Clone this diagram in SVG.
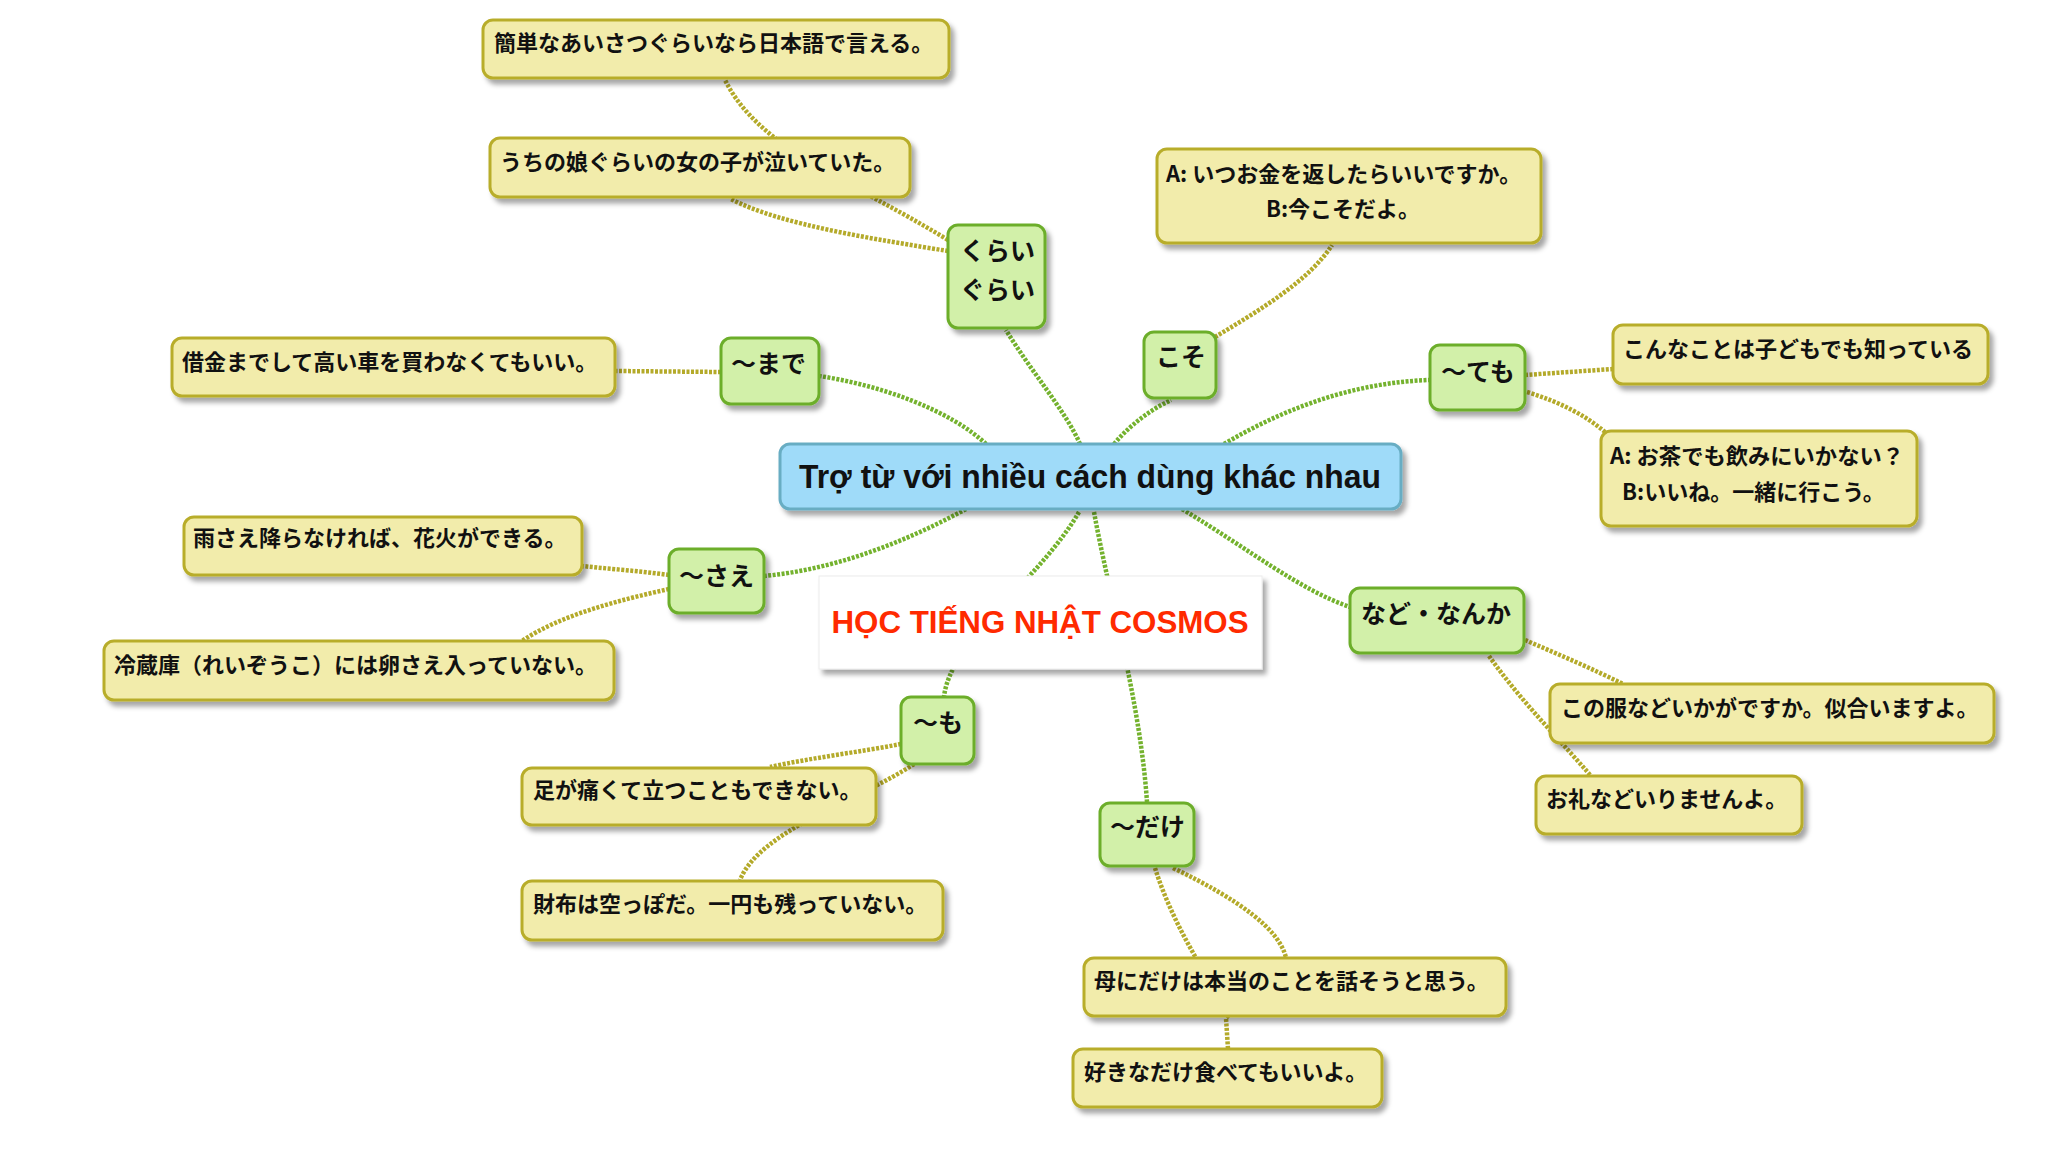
<svg xmlns="http://www.w3.org/2000/svg" width="2048" height="1170" viewBox="0 0 2048 1170">
<defs>
<filter id="sh" x="-10%" y="-20%" width="130%" height="150%">
<feDropShadow dx="4" dy="5" stdDeviation="2.5" flood-color="#000" flood-opacity="0.35"/>
</filter>
<style>
.cg{fill:none;stroke:#74b22e;stroke-width:4.5;stroke-dasharray:3 1.5}
.co{fill:none;stroke:#b4aa2a;stroke-width:4.5;stroke-dasharray:3 1.5}
.g rect{fill:#d2f0a9;stroke:#6cae2a;stroke-width:3;filter:url(#sh)}
.y rect{fill:#f2ecab;stroke:#b8ad2a;stroke-width:3;filter:url(#sh)}
.m rect{fill:#9fdbf9;stroke:#68adc3;stroke-width:3;filter:url(#sh)}
.r rect{fill:#ffffff;stroke:#ececec;stroke-width:1;filter:url(#sh)}
.tg{font-family:"Noto Sans CJK JP","Liberation Sans",sans-serif;font-weight:700;font-size:25px;fill:#111}
.ty{font-family:"Noto Sans CJK JP","Liberation Sans",sans-serif;font-weight:700;font-size:22px;fill:#111}
.tm{font-family:"Liberation Sans",Arial,sans-serif;font-weight:700;font-size:34px;fill:#111}
.tr{font-family:"Liberation Sans",Arial,sans-serif;font-weight:700;font-size:32px;fill:#ff2a00}
</style>
</defs>
<rect x="0" y="0" width="2048" height="1170" fill="#ffffff"/>
<g id="connectors">
<path class="cg" d="M1080,444 C1065,410 1030,370 1006,330"/>
<path class="cg" d="M986,444 C950,410 880,385 819,376"/>
<path class="cg" d="M1114,444 C1130,425 1150,410 1171,400"/>
<path class="cg" d="M1224,444 C1290,405 1360,382 1430,380"/>
<path class="cg" d="M966,509 C900,545 830,570 764,576"/>
<path class="cg" d="M1182,509 C1250,550 1300,590 1350,607"/>
<path class="cg" d="M1079,512 C1040,580 950,640 944,697"/>
<path class="cg" d="M1094,512 C1110,600 1140,700 1147,802"/>
<path class="co" d="M948,240 C850,180 760,150 725,80"/>
<path class="co" d="M948,251 C880,240 780,225 731,199"/>
<path class="co" d="M721,372 L615,371"/>
<path class="co" d="M1215,337 C1260,310 1310,280 1332,245"/>
<path class="co" d="M1525,375 L1613,369"/>
<path class="co" d="M1527,392 C1560,402 1585,415 1605,432"/>
<path class="co" d="M669,575 C640,571 610,569 582,566"/>
<path class="co" d="M669,589 C620,600 560,615 522,641"/>
<path class="co" d="M1525,640 C1560,655 1595,670 1623,684"/>
<path class="co" d="M1489,656 C1520,700 1560,740 1591,776"/>
<path class="co" d="M901,744 C860,752 810,758 770,767"/>
<path class="co" d="M914,764 C860,800 760,830 740,880"/>
<path class="co" d="M1155,868 C1165,900 1180,930 1196,958"/>
<path class="co" d="M1173,868 C1240,900 1280,930 1286,958 L1226,1018 L1228,1049"/>
</g>
<g id="title" class="r">
<rect x="819" y="576" width="443" height="93"/>
<text class="tr" x="1040" y="633" text-anchor="middle" textLength="417" lengthAdjust="spacingAndGlyphs">HỌC TIẾNG NHẬT COSMOS</text>
</g>
<g id="main" class="m">
<rect x="780" y="444" width="621" height="65" rx="10"/>
<text class="tm" x="1090" y="488" text-anchor="middle" textLength="582" lengthAdjust="spacingAndGlyphs">Trợ từ với nhiều cách dùng khác nhau</text>
</g>
<g id="n-kurai" class="g">
<rect x="948" y="225" width="97" height="103" rx="10"/>
<text class="tg" x="960" y="260">くらい</text>
<text class="tg" x="960" y="299">ぐらい</text>
</g>
<g id="n-koso" class="g">
<rect x="1144" y="332" width="72" height="66" rx="10"/>
<text class="tg" x="1156" y="366">こそ</text>
</g>
<g id="n-made" class="g">
<rect x="721" y="338" width="98" height="66" rx="10"/>
<text class="tg" x="731" y="373">～まで</text>
</g>
<g id="n-temo" class="g">
<rect x="1430" y="345" width="95" height="65" rx="10"/>
<text class="tg" x="1441" y="381">～ても</text>
</g>
<g id="n-sae" class="g">
<rect x="669" y="549" width="95" height="64" rx="10"/>
<text class="tg" x="679" y="585">～さえ</text>
</g>
<g id="n-nado" class="g">
<rect x="1350" y="588" width="174" height="65" rx="10"/>
<text class="tg" x="1361" y="623">など・なんか</text>
</g>
<g id="n-mo" class="g">
<rect x="901" y="697" width="73" height="67" rx="10"/>
<text class="tg" x="913" y="732">～も</text>
</g>
<g id="n-dake" class="g">
<rect x="1100" y="803" width="94" height="63" rx="10"/>
<text class="tg" x="1110" y="836">～だけ</text>
</g>
<g id="e-kantan" class="y">
<rect x="483" y="20" width="466" height="58" rx="10"/>
<text class="ty" x="494" y="51">簡単なあいさつぐらいなら日本語で言える。</text>
</g>
<g id="e-uchi" class="y">
<rect x="490" y="138" width="420" height="59" rx="10"/>
<text class="ty" x="500" y="170">うちの娘ぐらいの女の子が泣いていた。</text>
</g>
<g id="e-itsu" class="y">
<rect x="1157" y="149" width="384" height="94" rx="10"/>
<text class="ty" x="1166" y="182">A: いつお金を返したらいいですか。</text>
<text class="ty" x="1343" y="217" text-anchor="middle">B:今こそだよ。</text>
</g>
<g id="e-konna" class="y">
<rect x="1613" y="325" width="375" height="59" rx="10"/>
<text class="ty" x="1623" y="357">こんなことは子どもでも知っている</text>
</g>
<g id="e-ocha" class="y">
<rect x="1601" y="431" width="316" height="95" rx="10"/>
<text class="ty" x="1610" y="464" textLength="294" lengthAdjust="spacingAndGlyphs">A: お茶でも飲みにいかない？</text>
<text class="ty" x="1622" y="500">B:いいね。一緒に行こう。</text>
</g>
<g id="e-shakkin" class="y">
<rect x="172" y="338" width="443" height="58" rx="10"/>
<text class="ty" x="182" y="370">借金までして高い車を買わなくてもいい。</text>
</g>
<g id="e-ame" class="y">
<rect x="184" y="517" width="398" height="58" rx="10"/>
<text class="ty" x="193" y="546">雨さえ降らなければ、花火ができる。</text>
</g>
<g id="e-reizouko" class="y">
<rect x="104" y="641" width="510" height="59" rx="10"/>
<text class="ty" x="114" y="673">冷蔵庫（れいぞうこ）には卵さえ入っていない。</text>
</g>
<g id="e-kono" class="y">
<rect x="1550" y="684" width="444" height="59" rx="10"/>
<text class="ty" x="1561" y="716">この服などいかがですか。似合いますよ。</text>
</g>
<g id="e-orei" class="y">
<rect x="1536" y="776" width="266" height="58" rx="10"/>
<text class="ty" x="1546" y="807">お礼などいりませんよ。</text>
</g>
<g id="e-ashi" class="y">
<rect x="522" y="768" width="354" height="57" rx="10"/>
<text class="ty" x="533" y="798">足が痛くて立つこともできない。</text>
</g>
<g id="e-saifu" class="y">
<rect x="522" y="881" width="421" height="59" rx="10"/>
<text class="ty" x="533" y="912">財布は空っぽだ。一円も残っていない。</text>
</g>
<g id="e-haha" class="y">
<rect x="1084" y="958" width="422" height="58" rx="10"/>
<text class="ty" x="1094" y="989">母にだけは本当のことを話そうと思う。</text>
</g>
<g id="e-suki" class="y">
<rect x="1073" y="1049" width="309" height="58" rx="10"/>
<text class="ty" x="1084" y="1080">好きなだけ食べてもいいよ。</text>
</g>
</svg>
